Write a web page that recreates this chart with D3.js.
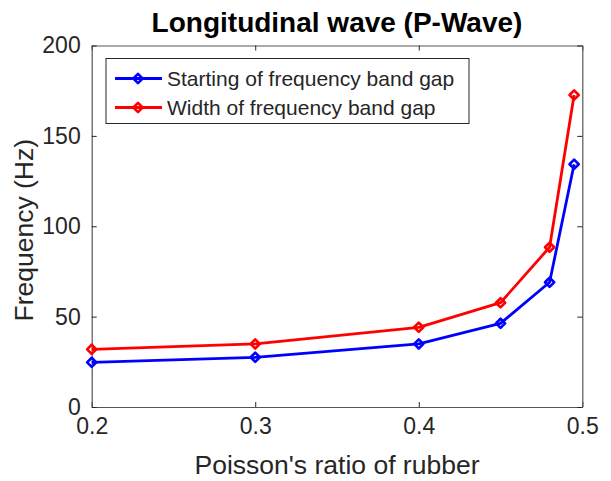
<!DOCTYPE html>
<html>
<head>
<meta charset="utf-8">
<script src="https://cdn.jsdelivr.net/npm/d3@7"></script>
<style>
  html, body { margin: 0; padding: 0; background: #fff; }
  svg { display: block; font-family: "Liberation Sans", Arial, Helvetica, sans-serif; }
</style>
</head>
<body>
<svg id="chart" width="611" height="481"></svg>
<script>
// Poisson's ratio of the rubber layer
const poissonRatio = [0.2, 0.3, 0.4, 0.45, 0.48, 0.495];
// Lower edge of the band gap (Hz)
const bandGapStart = [24.7, 27.5, 34.9, 46.3, 69.0, 134.3];
// Width of the band gap (Hz)
const bandGapWidth = [31.9, 34.9, 44.1, 57.7, 88.4, 172.6];

const xTicks = [0.2, 0.3, 0.4, 0.5];
const yTicks = [0, 50, 100, 150, 200];

const seriesNames = ["Starting of frequency band gap", "Width of frequency band gap"];
const seriesColors = ["#0000ff", "#ff0000"];

const axisColor = "#262626";
const boxColor = "#555555";
const margin = { left: 91.7, right: 611 - 582.3, top: 45.5, bottom: 481 - 407 };
const width = 611, height = 481;
const innerW = width - margin.left - margin.right;
const innerH = height - margin.top - margin.bottom;

const svg = d3.select("#chart");

const x = d3.scaleLinear().domain([0.2, 0.5]).range([margin.left, margin.left + innerW]);
const y = d3.scaleLinear().domain([0, 200]).range([margin.top + innerH, margin.top]);

// Axes: ticks point inward on all four sides (boxed axes)
const tickLen = 5;
const axisFont = "23px";

const bottomAxis = svg.append("g")
  .attr("transform", `translate(0,${y(0)})`)
  .call(d3.axisBottom(x).tickValues(xTicks).tickFormat(d3.format(".1f")).tickSizeInner(-tickLen).tickSizeOuter(0).tickPadding(11));
const topAxis = svg.append("g")
  .attr("transform", `translate(0,${y(200)})`)
  .call(d3.axisTop(x).tickValues(xTicks).tickFormat("").tickSizeInner(-tickLen).tickSizeOuter(0));
const leftAxis = svg.append("g")
  .attr("transform", `translate(${x(0.2)},0)`)
  .call(d3.axisLeft(y).tickValues(yTicks).tickFormat(d3.format("d")).tickSizeInner(-tickLen).tickSizeOuter(0).tickPadding(11));
const rightAxis = svg.append("g")
  .attr("transform", `translate(${x(0.5)},0)`)
  .call(d3.axisRight(y).tickValues(yTicks).tickFormat("").tickSizeInner(-tickLen).tickSizeOuter(0));

[bottomAxis, topAxis, leftAxis, rightAxis].forEach(g => {
  g.select(".domain").attr("stroke", boxColor).attr("stroke-width", 1.2);
  g.selectAll(".tick line").attr("stroke", axisColor).attr("stroke-width", 1);
  g.selectAll(".tick text").attr("fill", axisColor).style("font-size", axisFont)
    .style("font-family", "'Liberation Sans', Arial, sans-serif");
});

// Series lines and open diamond markers
const seriesData = [bandGapStart, bandGapWidth];
const line = d3.line().x(d => x(d[0])).y(d => y(d[1]));
const diamond = (r) => `M0,${-r}L${r},0L0,${r}L${-r},0Z`;

seriesData.forEach((vals, i) => {
  const pts = poissonRatio.map((p, j) => [p, vals[j]]);
  svg.append("path")
    .datum(pts)
    .attr("d", line)
    .attr("fill", "none")
    .attr("stroke", seriesColors[i])
    .attr("stroke-width", 2.8)
    .attr("stroke-linejoin", "round");
  svg.append("g").selectAll("path")
    .data(pts)
    .join("path")
    .attr("transform", d => `translate(${x(d[0])},${y(d[1])})`)
    .attr("d", diamond(4.6))
    .attr("fill", "none")
    .attr("stroke", seriesColors[i])
    .attr("stroke-width", 2.6)
    .attr("stroke-linejoin", "round");
});

// Title
svg.append("text")
  .attr("x", (x(0.2) + x(0.5)) / 2)
  .attr("y", 31.5)
  .attr("text-anchor", "middle")
  .attr("fill", "#000")
  .style("font-size", "28px")
  .style("font-weight", "bold")
  .text("Longitudinal wave (P-Wave)");

// Axis labels
svg.append("text")
  .attr("x", (x(0.2) + x(0.5)) / 2)
  .attr("y", 474)
  .attr("text-anchor", "middle")
  .attr("fill", axisColor)
  .style("font-size", "26.5px")
  .text("Poisson's ratio of rubber");

svg.append("text")
  .attr("transform", `translate(33,${(y(0) + y(200)) / 2 + 4}) rotate(-90)`)
  .attr("text-anchor", "middle")
  .attr("fill", axisColor)
  .style("font-size", "26.5px")
  .text("Frequency (Hz)");

// Legend
const legend = svg.append("g").attr("transform", "translate(106,58.5)");
legend.append("rect")
  .attr("width", 363).attr("height", 65)
  .attr("fill", "#fff")
  .attr("stroke", axisColor)
  .attr("stroke-width", 1);
seriesNames.forEach((name, i) => {
  const cy = 20 + i * 29;
  legend.append("line")
    .attr("x1", 9).attr("x2", 56).attr("y1", cy).attr("y2", cy)
    .attr("stroke", seriesColors[i]).attr("stroke-width", 2.8);
  legend.append("path")
    .attr("transform", `translate(32,${cy})`)
    .attr("d", diamond(4.6))
    .attr("fill", "none")
    .attr("stroke", seriesColors[i])
    .attr("stroke-width", 2.6)
    .attr("stroke-linejoin", "round");
  legend.append("text")
    .attr("x", 61).attr("y", cy + 7.5)
    .attr("fill", axisColor)
    .style("font-size", "21px")
    .text(name);
});
</script>
</body>
</html>
